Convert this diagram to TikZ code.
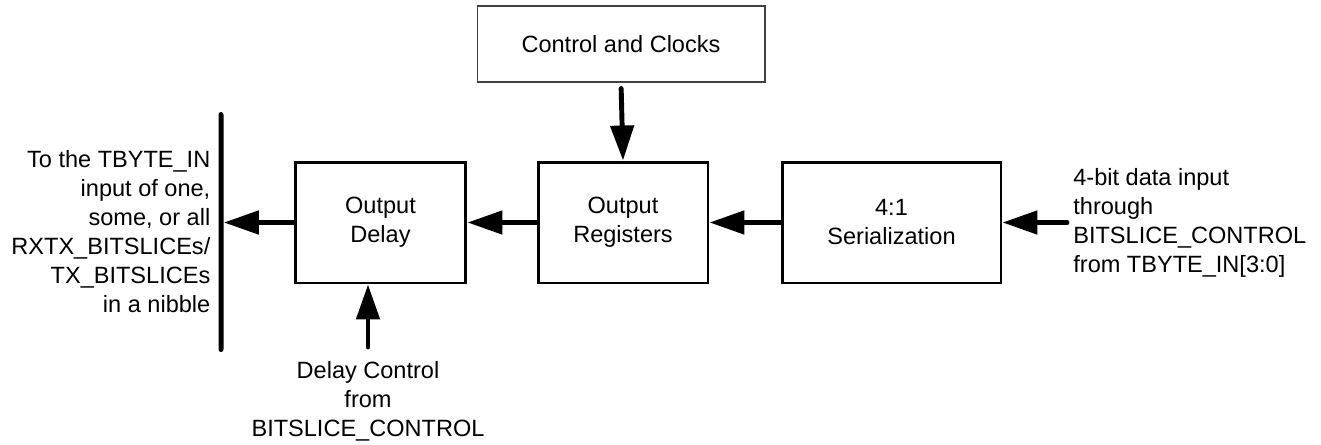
\documentclass[tikz,border=0pt]{standalone}
\usepackage{fontspec}
\setmainfont{Liberation Sans}
\usetikzlibrary{arrows.meta, positioning}

\begin{document}
\begin{tikzpicture}[x=0.02cm, y=-0.02cm,
  every node/.style={font=\fontsize{13.4}{16.5}\selectfont},
  blk/.style={draw, line width=1.7pt, minimum height=2.42cm, align=center, inner sep=0pt},
  ctlbox/.style={draw=black!75, line width=0.6pt, minimum width=5.76cm, minimum height=1.52cm},
  sig/.style={line width=2.8pt, line cap=round, -{Triangle[length=0.7cm, width=0.46cm]}},
  lbl/.style={inner sep=0pt}]
\useasboundingbox (0,0) rectangle (1321,444);
% blocks
\node[ctlbox] (ctl) at (621,44) {Control and Clocks};
\node[blk, minimum width=3.4cm] (regs) at (623,222.5) {Output\\Registers};
\node[blk, minimum width=3.42cm] (dly) at (380.5,222.5) {Output\\Delay};
\node[blk, minimum width=4.38cm] (ser) at (891.5,222.5) {4:1\\Serialization};
% nibble bus
\node[fill, inner sep=0pt, minimum width=0.1cm, minimum height=4.8cm,
      rounded corners=0.05cm] (bus) at (221,232) {};
\coordinate (din) at (1067,222.5);
\coordinate (dctl) at (368,347);
% labels
\node[lbl, left=0.15cm of bus, align=right] (buslbl)
    {To the TBYTE\_IN\\input of one,\\some, or all\\RXTX\_BITSLICEs/\\TX\_BITSLICEs\\in a nibble};
\node[lbl, right=0.12cm of din, align=left] (dinlbl)
    {4-bit data input\\through\\BITSLICE\_CONTROL\\from TBYTE\_IN[3:0]};
\node[lbl, below=0.28cm of dctl, align=center] (dctllbl)
    {Delay Control\\from\\BITSLICE\_CONTROL};
% signals
\draw[sig, shorten <=0.12cm] (ctl.south) -- (regs.north);
\draw[sig] (din) -- (ser.east);
\draw[sig] (ser.west) -- (regs.east);
\draw[sig] (regs.west) -- (dly.east);
\draw[sig] (dly.west) -- (dly.west -| bus.east);
\draw[sig] (dctl) -- (dctl |- dly.south);
\end{tikzpicture}
\end{document}
